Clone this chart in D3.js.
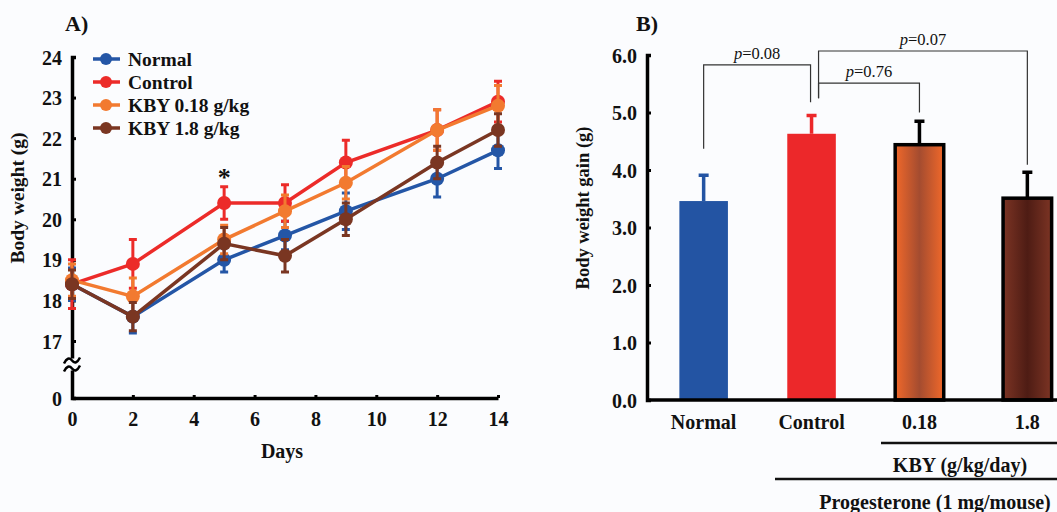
<!DOCTYPE html>
<html>
<head>
<meta charset="utf-8">
<script src="https://cdn.jsdelivr.net/npm/d3@7"></script>
<style>
  body { margin: 0; background: #fbfcfe; }
  svg { display: block; }
  text { font-family: "Liberation Serif", "Times New Roman", serif; font-weight: bold; fill: #111; }
</style>
</head>
<body>
<script>
// ---- panel A data ----
var days = [0, 2, 5, 7, 9, 12, 14];
var groupNames = ['Normal', 'Control', 'KBY 0.18 g/kg', 'KBY 1.8 g/kg'];
var groupColors = ['#2456a6', '#ec2b29', '#f27a30', '#7a3622'];
var normalMean = [18.4, 17.6, 19.0, 19.6, 20.2, 21.0, 21.7];
var normalErr = [0.4, 0.4, 0.3, 0.35, 0.45, 0.45, 0.45];
var controlMean = [18.4, 18.9, 20.4, 20.4, 21.4, 22.2, 22.9];
var controlErr = [0.6, 0.6, 0.4, 0.45, 0.55, 0.5, 0.5];
var kby018Mean = [18.5, 18.1, 19.5, 20.2, 20.9, 22.2, 22.8];
var kby018Err = [0.4, 0.45, 0.35, 0.4, 0.4, 0.5, 0.5];
var kby18Mean = [18.4, 17.6, 19.4, 19.1, 20.0, 21.4, 22.2];
var kby18Err = [0.35, 0.35, 0.4, 0.4, 0.4, 0.4, 0.4];
var dayTicks = [0, 2, 4, 6, 8, 10, 12, 14];
var weightTicks = [0, 17, 18, 19, 20, 21, 22, 23, 24];

// ---- panel B data ----
var barCats = ['Normal', 'Control', '0.18', '1.8'];
var gainMean = [3.46, 4.63, 4.44, 3.51];
var gainErr = [0.45, 0.32, 0.41, 0.45];
var gainTicks = [0, 1, 2, 3, 4, 5, 6];
var brackets = [
  { from: 'Normal', to: 'Control', level: 5.83, fromEnd: 4.37, toEnd: 5.18, label: '0.08' },
  { from: 'Control', to: '0.18', level: 5.51, fromEnd: 5.25, toEnd: 5.0, label: '0.76' },
  { from: 'Control', to: '1.8', level: 6.07, fromEnd: 5.25, toEnd: 4.09, label: '0.07' }
];

var series = [
  { name: groupNames[0], color: groupColors[0], mean: normalMean, err: normalErr },
  { name: groupNames[1], color: groupColors[1], mean: controlMean, err: controlErr },
  { name: groupNames[2], color: groupColors[2], mean: kby018Mean, err: kby018Err },
  { name: groupNames[3], color: groupColors[3], mean: kby18Mean, err: kby18Err }
];

var W = 1057, H = 512;
var svg = d3.select('body').append('svg').attr('width', W).attr('height', H);

var defs = svg.append('defs');
function gradient(id, edge, mid) {
  var g = defs.append('linearGradient').attr('id', id);
  g.append('stop').attr('offset', '0%').attr('stop-color', edge);
  g.append('stop').attr('offset', '50%').attr('stop-color', mid);
  g.append('stop').attr('offset', '100%').attr('stop-color', edge);
}
gradient('g018', '#f0682a', '#a44c30');
gradient('g18', '#7c3424', '#4e1c14');
var barFills = ['#2354a3', '#ec282a', 'url(#g018)', 'url(#g18)'];

function styleTicks(sel, dx) {
  sel.selectAll('.tick text').attr('x', dx).attr('text-anchor', 'end').attr('dy', '0.35em')
    .attr('font-size', 20).attr('font-family', '"Liberation Serif", serif').attr('font-weight', 'bold').attr('fill', '#111');
}

// ================= Panel A =================
var x = d3.scaleLinear().domain([0, 14]).range([72, 498]);
var y = d3.scaleLinear().domain([0, 17, 24]).range([398, 341, 57]);

var A = svg.append('g');

A.append('text').attr('x', 65).attr('y', 31).attr('font-size', 22).text('A)');

// y axis
var yAxisA = d3.axisRight(y).tickValues(weightTicks).tickSize(4).tickFormat(d3.format('d'));
var ya = A.append('g').attr('transform', 'translate(' + x(0) + ',0)').call(yAxisA);
ya.select('.domain').attr('stroke', '#000').attr('stroke-width', 3.5);
ya.selectAll('.tick line').attr('stroke', '#000').attr('stroke-width', 3);
styleTicks(ya, -10);

// x axis
var xAxisA = d3.axisTop(x).tickValues(dayTicks).tickSize(3).tickSizeOuter(0);
var xa = A.append('g').attr('transform', 'translate(0,' + y(0) + ')').call(xAxisA);
xa.select('.domain').attr('stroke', '#000').attr('stroke-width', 3.5);
xa.selectAll('.tick line').attr('stroke', '#000').attr('stroke-width', 3);
xa.selectAll('.tick text').attr('y', 21).attr('dy', '0.35em')
  .attr('font-size', 20).attr('font-family', '"Liberation Serif", serif').attr('font-weight', 'bold').attr('fill', '#111');

// axis break
var by = (y(0) + y(17)) / 2 - 5;
A.append('rect').attr('x', x(0) - 8).attr('y', by - 6).attr('width', 16).attr('height', 12).attr('fill', '#fbfcfe');
[-4, 4].forEach(function (o) {
  A.append('path')
    .attr('d', 'M' + (x(0) - 8) + ',' + (by + o + 3) + ' q4,-8 8,-3 t8,-3')
    .attr('fill', 'none').attr('stroke', '#000').attr('stroke-width', 2.5);
});

A.append('text').attr('x', 282).attr('y', 458).attr('text-anchor', 'middle').attr('font-size', 20).text('Days');
A.append('text').attr('transform', 'translate(24,198) rotate(-90)').attr('text-anchor', 'middle')
  .attr('font-size', 19.5).text('Body weight (g)');

var line = d3.line().x(function (d) { return x(d.day); }).y(function (d) { return y(d.v); });

series.forEach(function (s) {
  var pts = days.map(function (d, i) { return { day: d, v: s.mean[i], e: s.err[i] }; });
  var g = A.append('g');
  g.selectAll('.eb').data(pts).enter().append('line')
    .attr('x1', function (d) { return x(d.day); }).attr('x2', function (d) { return x(d.day); })
    .attr('y1', function (d) { return y(d.v - d.e); }).attr('y2', function (d) { return y(d.v + d.e); })
    .attr('stroke', s.color).attr('stroke-width', 3);
  g.selectAll('.cap').data(pts).enter().append('path')
    .attr('d', function (d) {
      var cx = x(d.day);
      return 'M' + (cx - 4) + ',' + y(d.v + d.e) + 'h8M' + (cx - 4) + ',' + y(d.v - d.e) + 'h8';
    })
    .attr('stroke', s.color).attr('stroke-width', 3);
  g.append('path').datum(pts).attr('d', line).attr('fill', 'none')
    .attr('stroke', s.color).attr('stroke-width', 3.5);
  g.selectAll('circle').data(pts).enter().append('circle')
    .attr('cx', function (d) { return x(d.day); }).attr('cy', function (d) { return y(d.v); })
    .attr('r', 7).attr('fill', s.color);
});

// significance star above control day 5
A.append('text').attr('x', x(5)).attr('y', y(controlMean[2] + controlErr[2]) - 1)
  .attr('text-anchor', 'middle').attr('font-size', 26).text('*');

// legend
var leg = A.append('g').attr('transform', 'translate(93,59)');
series.forEach(function (s, i) {
  var r = leg.append('g').attr('transform', 'translate(0,' + (i * 23) + ')');
  r.append('line').attr('x1', 0).attr('x2', 27).attr('stroke', s.color).attr('stroke-width', 3.5);
  r.append('circle').attr('cx', 13).attr('r', 6).attr('fill', s.color);
  r.append('text').attr('x', 35).attr('dy', '0.35em').attr('font-size', 19.5).text(s.name);
});

// ================= Panel B =================
var xb = d3.scaleBand().domain(barCats).range([647, 1084]).paddingInner(0.55).paddingOuter(0.3);
var yb = d3.scaleLinear().domain([0, 6]).range([400, 55]);

var B = svg.append('g');
B.append('text').attr('x', 636).attr('y', 31).attr('font-size', 22).text('B)');

var bars = barCats.map(function (c, i) { return { c: c, v: gainMean[i], e: gainErr[i], fill: barFills[i], i: i }; });

// error bars (upward only)
B.selectAll('.beb').data(bars).enter().append('path')
  .attr('d', function (d) {
    var cx = xb(d.c) + xb.bandwidth() / 2;
    return 'M' + cx + ',' + yb(d.v) + 'V' + yb(d.v + d.e) + 'M' + (cx - 5) + ',' + yb(d.v + d.e) + 'h10';
  })
  .attr('stroke', function (d) { return d.i < 2 ? barFills[d.i] : '#000'; })
  .attr('stroke-width', 3.5).attr('fill', 'none');

B.selectAll('.bar').data(bars).enter().append('rect')
  .attr('x', function (d) { return xb(d.c); })
  .attr('y', function (d) { return yb(d.v); })
  .attr('width', xb.bandwidth())
  .attr('height', function (d) { return yb(0) - yb(d.v); })
  .attr('fill', function (d) { return d.fill; })
  .attr('stroke', function (d) { return d.i < 2 ? 'none' : '#000'; })
  .attr('stroke-width', 3.5);

var yAxisB = d3.axisRight(yb).tickValues(gainTicks).tickSize(4).tickFormat(d3.format('.1f'));
var ybg = B.append('g').attr('transform', 'translate(647,0)').call(yAxisB);
ybg.select('.domain').attr('stroke', '#000').attr('stroke-width', 3.5);
ybg.selectAll('.tick line').attr('stroke', '#000').attr('stroke-width', 3);
styleTicks(ybg, -10);

B.append('line').attr('x1', 647).attr('x2', W).attr('y1', yb(0)).attr('y2', yb(0))
  .attr('stroke', '#000').attr('stroke-width', 3.5);

B.selectAll('.cat').data(barCats).enter().append('text')
  .attr('x', function (d) { return xb(d) + xb.bandwidth() / 2; }).attr('y', 429)
  .attr('text-anchor', 'middle').attr('font-size', 20).text(function (d) { return d; });

B.append('text').attr('transform', 'translate(589,208) rotate(-90)').attr('text-anchor', 'middle')
  .attr('font-size', 18.5).text('Body weight gain (g)');

// group lines
B.append('line').attr('x1', 881).attr('x2', W).attr('y1', 443).attr('y2', 443).attr('stroke', '#111').attr('stroke-width', 2.5);
B.append('text').attr('x', 960).attr('y', 472).attr('text-anchor', 'middle').attr('font-size', 20).text('KBY (g/kg/day)');
B.append('line').attr('x1', 775).attr('x2', W).attr('y1', 479).attr('y2', 479).attr('stroke', '#111').attr('stroke-width', 2.5);
B.append('text').attr('x', 935).attr('y', 509).attr('text-anchor', 'middle').attr('font-size', 20).text('Progesterone (1 mg/mouse)');

// brackets
brackets.forEach(function (b) {
  var c1 = xb(b.from) + xb.bandwidth() / 2, c2 = xb(b.to) + xb.bandwidth() / 2;
  if (b.from === 'Control') c1 += 7;
  else c2 -= 1;
  B.append('path')
    .attr('d', 'M' + c1 + ',' + yb(b.fromEnd) + 'V' + yb(b.level) + 'H' + c2 + 'V' + yb(b.toEnd))
    .attr('fill', 'none').attr('stroke', '#333').attr('stroke-width', 1.2);
  var t = B.append('text').attr('x', (c1 + c2) / 2).attr('y', yb(b.level) - 6)
    .attr('text-anchor', 'middle').attr('font-size', 16.5).attr('font-weight', 'normal');
  t.append('tspan').attr('font-style', 'italic').attr('font-weight', 'normal').text('p');
  t.append('tspan').attr('font-weight', 'normal').text('=' + b.label);
});
</script>
</body>
</html>
